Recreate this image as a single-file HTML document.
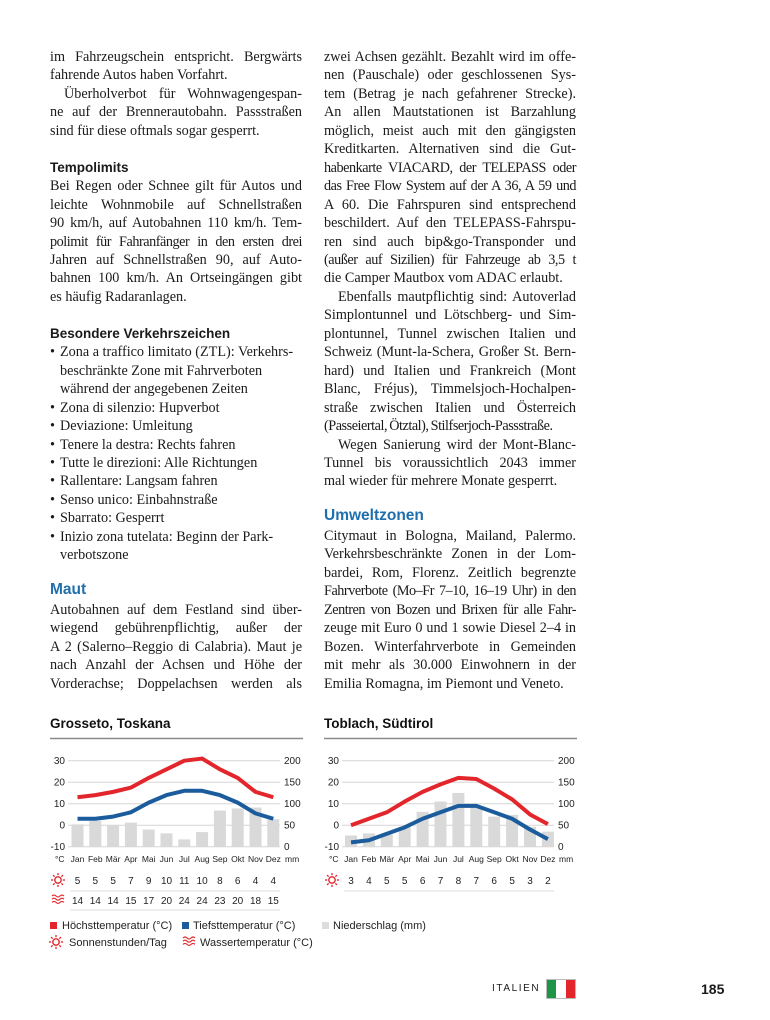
<!DOCTYPE html>
<html><head><meta charset="utf-8">
<style>
body{margin:0;background:#fff;}
#page{position:relative;width:770px;height:1020px;overflow:hidden;font-family:"Liberation Serif",serif;color:#1a1a1a;}
.col{position:absolute;width:252px;font-size:14.2px;line-height:18.45px;}
.l{text-align:justify;text-align-last:justify;white-space:nowrap;overflow:visible;}
.l.e{text-align-last:left;}
.l.i{text-indent:14px;}
.t{letter-spacing:-0.45px;word-spacing:-1px;}
.b{font-family:"Liberation Sans",sans-serif;font-weight:bold;font-size:13.5px;}
.h{font-family:"Liberation Sans",sans-serif;font-weight:bold;font-size:15.5px;color:#1f6fad;}
.bl{padding-left:10px;position:relative;text-align-last:left;}
.bl:before{content:"•";position:absolute;left:0;}
.bc{padding-left:10px;text-align-last:left;}
.sans{font-family:"Liberation Sans",sans-serif;}
svg text{font-family:"Liberation Sans",sans-serif;}
</style></head><body>
<div id="page">

<div class="col" style="left:50px;top:48px">
<div class="l">im Fahrzeugschein entspricht. Bergwärts</div>
<div class="l e">fahrende Autos haben Vorfahrt.</div>
<div class="l i">Überholverbot für Wohnwagengespan-</div>
<div class="l">ne auf der Brennerautobahn. Passstraßen</div>
<div class="l e">sind für diese oftmals sogar gesperrt.</div>
<div class="l e">&nbsp;</div>
<div class="l e b">Tempolimits</div>
<div class="l">Bei Regen oder Schnee gilt für Autos und</div>
<div class="l">leichte Wohnmobile auf Schnellstraßen</div>
<div class="l">90 km/h, auf Autobahnen 110 km/h. Tem-</div>
<div class="l t">polimit für Fahranfänger in den ersten drei</div>
<div class="l">Jahren auf Schnellstraßen 90, auf Auto-</div>
<div class="l">bahnen 100 km/h. An Ortseingängen gibt</div>
<div class="l e">es häufig Radaranlagen.</div>
<div class="l e">&nbsp;</div>
<div class="l e b">Besondere Verkehrszeichen</div>
<div class="l bl">Zona a traffico limitato (ZTL): Verkehrs-</div>
<div class="l bc">beschränkte Zone mit Fahrverboten</div>
<div class="l bc">während der angegebenen Zeiten</div>
<div class="l bl">Zona di silenzio: Hupverbot</div>
<div class="l bl">Deviazione: Umleitung</div>
<div class="l bl">Tenere la destra: Rechts fahren</div>
<div class="l bl">Tutte le direzioni: Alle Richtungen</div>
<div class="l bl">Rallentare: Langsam fahren</div>
<div class="l bl">Senso unico: Einbahnstraße</div>
<div class="l bl">Sbarrato: Gesperrt</div>
<div class="l bl">Inizio zona tutelata: Beginn der Park-</div>
<div class="l bc">verbotszone</div>
<div class="l e h" style="margin-top:14px;line-height:22px">Maut</div>
<div class="l">Autobahnen auf dem Festland sind über-</div>
<div class="l">wiegend gebührenpflichtig, außer der</div>
<div class="l">A 2 (Salerno–Reggio di Calabria). Maut je</div>
<div class="l">nach Anzahl der Achsen und Höhe der</div>
<div class="l">Vorderachse; Doppelachsen werden als</div>
</div>

<div class="col" style="left:324px;top:48px">
<div class="l">zwei Achsen gezählt. Bezahlt wird im offe-</div>
<div class="l">nen (Pauschale) oder geschlossenen Sys-</div>
<div class="l">tem (Betrag je nach gefahrener Strecke).</div>
<div class="l">An allen Mautstationen ist Barzahlung</div>
<div class="l">möglich, meist auch mit den gängigsten</div>
<div class="l">Kreditkarten. Alternativen sind die Gut-</div>
<div class="l t">habenkarte VIACARD, der TELEPASS oder</div>
<div class="l t">das Free Flow System auf der A 36, A 59 und</div>
<div class="l">A 60. Die Fahrspuren sind entsprechend</div>
<div class="l">beschildert. Auf den TELEPASS-Fahrspu-</div>
<div class="l">ren sind auch bip&amp;go-Transponder und</div>
<div class="l t">(außer auf Sizilien) für Fahrzeuge ab 3,5 t</div>
<div class="l e">die Camper Mautbox vom ADAC erlaubt.</div>
<div class="l i">Ebenfalls mautpflichtig sind: Autoverlad</div>
<div class="l">Simplontunnel und Lötschberg- und Sim-</div>
<div class="l">plontunnel, Tunnel zwischen Italien und</div>
<div class="l">Schweiz (Munt-la-Schera, Großer St. Bern-</div>
<div class="l">hard) und Italien und Frankreich (Mont</div>
<div class="l">Blanc, Fréjus), Timmelsjoch-Hochalpen-</div>
<div class="l">straße zwischen Italien und Österreich</div>
<div class="l e t">(Passeiertal, Ötztal), Stilfserjoch-Passstraße.</div>
<div class="l i">Wegen Sanierung wird der Mont-Blanc-</div>
<div class="l">Tunnel bis voraussichtlich 2043 immer</div>
<div class="l e">mal wieder für mehrere Monate gesperrt.</div>
<div class="l e h" style="margin-top:14px;line-height:22px">Umweltzonen</div>
<div class="l">Citymaut in Bologna, Mailand, Palermo.</div>
<div class="l">Verkehrsbeschränkte Zonen in der Lom-</div>
<div class="l">bardei, Rom, Florenz. Zeitlich begrenzte</div>
<div class="l t">Fahrverbote (Mo–Fr 7–10, 16–19 Uhr) in den</div>
<div class="l t">Zentren von Bozen und Brixen für alle Fahr-</div>
<div class="l">zeuge mit Euro 0 und 1 sowie Diesel 2–4 in</div>
<div class="l">Bozen. Winterfahrverbote in Gemeinden</div>
<div class="l">mit mehr als 30.000 Einwohnern in der</div>
<div class="l e">Emilia Romagna, im Piemont und Veneto.</div>
</div>

<svg id="charts" width="770" height="1020" style="position:absolute;left:0;top:0"></svg>

<div class="sans" style="position:absolute;left:492px;top:983px;font-size:10px;letter-spacing:1.6px">ITALIEN</div>
<div style="position:absolute;left:546px;top:979px;width:30px;height:20px;display:flex;border:1px solid #bbb;box-sizing:border-box">
<div style="flex:1;background:#1e9446"></div><div style="flex:1;background:#fff"></div><div style="flex:1;background:#e3262b"></div></div>
<div class="sans" style="position:absolute;left:701px;top:981px;font-size:14px;font-weight:bold">185</div>

<script>
const months = ["Jan","Feb","Mär","Apr","Mai","Jun","Jul","Aug","Sep","Okt","Nov","Dez"];
const tempTicks = [30,20,10,0,-10];
const mmTicks = [200,150,100,50,0];
const grossetoHigh = [13,14,15.5,17.5,22,26,30,31,26,22,15.5,13];
const grossetoLow = [3,3,4,6,10.5,14,16,16,14,10.5,5.5,3];
const grossetoRain = [52,60,50,56,40,31,17,34,84,89,91,64];
const grossetoSun = [5,5,5,7,9,10,11,10,8,6,4,4];
const grossetoWater = [14,14,14,15,17,20,24,24,23,20,18,15];
const toblachHigh = [0,3,6,11,15.5,19,22,21.5,17,12,5,0.5];
const toblachLow = [-8,-7,-4,-1,3,6,9,9,6,3,-2,-6.5];
const toblachRain = [26,31,28,46,81,105,125,93,70,74,46,35];
const toblachSun = [3,4,5,5,6,7,8,7,6,5,3,2];

const NS="http://www.w3.org/2000/svg";
const svg=document.getElementById('charts');
function mk(tag,attrs,parent){const e=document.createElementNS(NS,tag);for(const k in attrs)e.setAttribute(k,attrs[k]);(parent||svg).appendChild(e);return e;}
function yT(t){return 760.7+(30-t)*2.15;}
function yP(p){return 846.7-p*0.43;}

function sunIcon(g,cx,cy){
  mk('circle',{cx:cx,cy:cy,r:3.2,fill:'none',stroke:'#e3262b','stroke-width':1.4},g);
  for(let a=0;a<8;a++){const r=a*Math.PI/4;mk('line',{x1:cx+Math.cos(r)*4.8,y1:cy+Math.sin(r)*4.8,x2:cx+Math.cos(r)*7,y2:cy+Math.sin(r)*7,stroke:'#e3262b','stroke-width':1.3},g);}
}
function waveIcon(g,x,y){
  for(let i=0;i<3;i++){mk('path',{d:`M${x} ${y+i*3.2} q2 -2 4 0 t4 0 t4 0`,fill:'none',stroke:'#e3262b','stroke-width':1.1},g);}
}

function drawChart(name,title,left,x0,step,high,low,rain,sun,water){
  const g=mk('g',{});
  
  
  const t=mk('text',{x:left,y:728,'font-size':13.5,'font-weight':'bold',fill:'#111'},g);t.textContent=title;
  
  
  mk('line',{x1:left,x2:left+253,y1:738.5,y2:738.5,stroke:'#8a8a8a','stroke-width':1.6},g);
  const gx1=left+18,gx2=left+230;
  tempTicks.forEach((v,i)=>{
    const y=yT(v);
    mk('line',{x1:gx1,x2:gx2,y1:y,y2:y,stroke:'#d5d5d5','stroke-width':1},g);
    const a=mk('text',{x:left+15,y:y+3.5,'font-size':10,'text-anchor':'end',fill:'#222'},g);a.textContent=v;
    
    
    const b=mk('text',{x:gx2+4,y:y+3.5,'font-size':10,fill:'#222'},g);b.textContent=mmTicks[i];
    
    
  });
  const c=mk('text',{x:left+5,y:862,'font-size':8.5,fill:'#222'},g);c.textContent='°C';
  const m=mk('text',{x:gx2+5,y:862,'font-size':8.5,fill:'#222'},g);m.textContent='mm';
  months.forEach((mo,i)=>{
    const x=x0+i*step;
    const r=mk('rect',{x:x-6,y:yP(rain[i]),width:12,height:yP(0)-yP(rain[i]),fill:'#d9d9d9'},g);
    
    
    const l=mk('text',{x:x,y:862,'font-size':8.5,'text-anchor':'middle',fill:'#222'},g);l.textContent=mo;
    
    
  });
  const lh=mk('polyline',{points:high.map((v,i)=>(x0+i*step)+','+yT(v)).join(' '),fill:'none',stroke:'#e3262b','stroke-width':4,'stroke-linejoin':'round'},g);
  
  
  const ll=mk('polyline',{points:low.map((v,i)=>(x0+i*step)+','+yT(v)).join(' '),fill:'none',stroke:'#1b5c9c','stroke-width':4,'stroke-linejoin':'round'},g);
  
  
  sunIcon(g,left+8,880);
  sun.forEach((v,i)=>{const s=mk('text',{x:x0+i*step,y:884,'font-size':10,'text-anchor':'middle',fill:'#222'},g);s.textContent=v;
    
    });
  mk('line',{x1:left+20,x2:gx2,y1:891,y2:891,stroke:'#ddd','stroke-width':1},g);
  if(water){
    waveIcon(g,left+2,896);
    water.forEach((v,i)=>{const s=mk('text',{x:x0+i*step,y:904,'font-size':10,'text-anchor':'middle',fill:'#222'},g);s.textContent=v;
      
      });
    mk('line',{x1:left+20,x2:gx2,y1:910,y2:910,stroke:'#ddd','stroke-width':1},g);
  }
}
drawChart('grosseto-chart','Grosseto, Toskana',50,77.5,17.8,grossetoHigh,grossetoLow,grossetoRain,grossetoSun,grossetoWater);
drawChart('toblach-chart','Toblach, Südtirol',324,351,17.9,toblachHigh,toblachLow,toblachRain,toblachSun,null);

const lg=mk('g',{});


mk('rect',{x:50,y:922,width:7,height:7,fill:'#e3262b'},lg);
let tx=mk('text',{x:62,y:929,'font-size':11,fill:'#222'},lg);tx.textContent='Höchsttemperatur (°C)';
mk('rect',{x:182,y:922,width:7,height:7,fill:'#1b5c9c'},lg);
tx=mk('text',{x:193,y:929,'font-size':11,fill:'#222'},lg);tx.textContent='Tiefsttemperatur (°C)';
mk('rect',{x:322,y:922,width:7,height:7,fill:'#dcdcdc'},lg);
tx=mk('text',{x:333,y:929,'font-size':11,fill:'#222'},lg);tx.textContent='Niederschlag (mm)';
sunIcon(lg,56,942);
tx=mk('text',{x:69,y:946,'font-size':11,fill:'#222'},lg);tx.textContent='Sonnenstunden/Tag';
waveIcon(lg,183,938);
tx=mk('text',{x:200,y:946,'font-size':11,fill:'#222'},lg);tx.textContent='Wassertemperatur (°C)';
</script>
</div>
</body></html>
